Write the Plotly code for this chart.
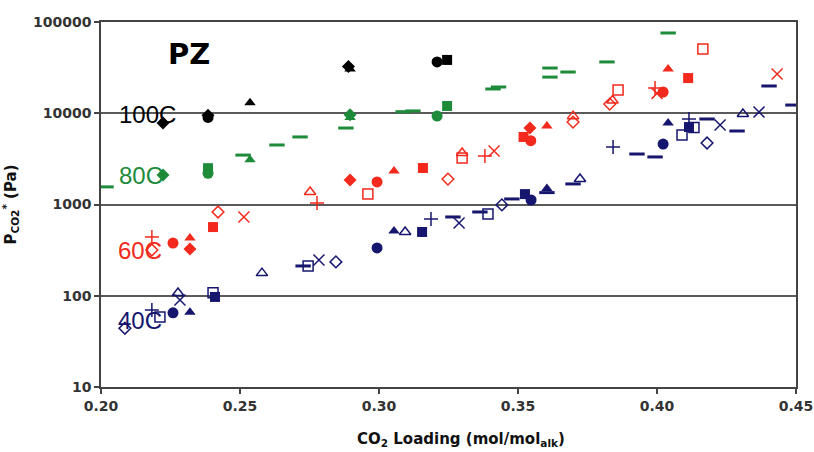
import math
import plotly.graph_objects as go

# CO2 partial pressure over piperazine (PZ) vs. loading, four temperatures.
# Each temperature: loading, pressure (Pa), marker style of the data set.

t100_x = [0.2223, 0.2385, 0.2385, 0.2536, 0.2896, 0.2890, 0.3209, 0.3245]
t100_y = [7800, 9000, 9500, 13000, 30500, 32500, 36500, 38400]
t100_m = ["diamond", "circle", "diamond", "triangle-up", "triangle-up", "diamond", "circle", "square"]

t80_x = [0.2018, 0.2223, 0.2385, 0.2385, 0.2511, 0.2536, 0.2633, 0.2716, 0.2881,
         0.2896, 0.2896, 0.3087, 0.3122, 0.3209, 0.3245, 0.3410, 0.3430, 0.3615,
         0.3615, 0.3680, 0.3820, 0.4040]
t80_y = [1560, 2100, 2500, 2200, 3480, 3100, 4490, 5500, 6890,
         9000, 9600, 10400, 10600, 9330, 12000, 18450, 19400, 31300,
         24900, 28300, 36500, 75800]
t80_m = ["line-ew", "diamond", "square", "circle", "line-ew", "triangle-up", "line-ew", "line-ew", "line-ew",
         "triangle-up", "diamond", "line-ew", "line-ew", "circle", "square", "line-ew", "line-ew", "line-ew",
         "line-ew", "line-ew", "line-ew", "line-ew"]

t60_x = [0.2183, 0.2183, 0.2259, 0.2320, 0.2320, 0.2403, 0.2421, 0.2514, 0.2752,
         0.2777, 0.2896, 0.2960, 0.2993, 0.3054, 0.3158, 0.3248, 0.3299, 0.3299,
         0.3381, 0.3414, 0.3520, 0.3543, 0.3546, 0.3604, 0.3698, 0.3698, 0.3830,
         0.3840, 0.3860, 0.3993, 0.4000, 0.4022, 0.4040, 0.4112, 0.4165, 0.4432]
t60_y = [440, 317, 378, 430, 325, 566, 828, 730, 1371,
         1038, 1853, 1303, 1766, 2330, 2512, 1900, 3660, 3236,
         3400, 3850, 5500, 6900, 5000, 7250, 9300, 8000, 12600,
         13800, 18000, 18900, 16500, 17100, 30500, 24300, 50600, 26900]
t60_m = ["cross-thin", "diamond-open", "circle", "triangle-up", "diamond", "square", "diamond-open", "x-thin", "triangle-up-open",
         "cross-thin", "diamond", "square-open", "circle", "triangle-up", "square", "diamond-open", "triangle-up-open", "square-open",
         "cross-thin", "x-thin", "square", "diamond", "circle", "triangle-up", "triangle-up-open", "diamond-open", "diamond-open",
         "triangle-up-open", "square-open", "cross-thin", "x-thin", "circle", "triangle-up", "square", "square-open", "x-thin"]

t40_x = [0.2086, 0.2183, 0.2212, 0.2259, 0.2277, 0.2284, 0.2320, 0.2410, 0.2403,
         0.2579, 0.2745, 0.2727, 0.2784, 0.2845, 0.2993, 0.3054, 0.3094, 0.3155,
         0.3187, 0.3266, 0.3288, 0.3363, 0.3392, 0.3442, 0.3478, 0.3525, 0.3547,
         0.3604, 0.3604, 0.3698, 0.3723, 0.3842, 0.3928, 0.3993, 0.4022, 0.4040,
         0.4090, 0.4115, 0.4133, 0.4115, 0.4180, 0.4180, 0.4227, 0.4288, 0.4309,
         0.4367, 0.4489, 0.4403]
t40_y = [44, 70, 58.5, 65, 107, 90, 66, 97, 108,
         177, 212, 212, 246, 235, 334, 513, 500, 500,
         694, 730, 626, 828, 787, 990, 1150, 1300, 1120,
         1500, 1350, 1680, 1900, 4260, 3575, 3320, 4600, 7820,
         5780, 7060, 7000, 8650, 8650, 4720, 7430, 6390, 9820,
         10300, 12300, 19900]
t40_m = ["diamond-open", "cross-thin", "square-open", "circle", "triangle-up-open", "x-thin", "triangle-up", "square", "square-open",
         "triangle-up-open", "square-open", "line-ew", "x-thin", "diamond-open", "circle", "triangle-up", "triangle-up-open", "square",
         "cross-thin", "line-ew", "x-thin", "line-ew", "square-open", "diamond-open", "line-ew", "square", "circle",
         "triangle-up", "line-ew", "line-ew", "triangle-up-open", "cross-thin", "line-ew", "line-ew", "circle", "triangle-up",
         "square-open", "square", "square-open", "cross-thin", "line-ew", "diamond-open", "x-thin", "line-ew", "triangle-up-open",
         "x-thin", "line-ew", "line-ew"]

temp_labels = ["100C", "80C", "60C", "40C"]
temp_colors = ["#000000", "#1e8b3a", "#f2291c", "#16166e"]
label_x = [0.2167, 0.2143, 0.2140, 0.2140]
label_y = [9600, 2100, 317, 53]

series = [(t100_x, t100_y, t100_m), (t80_x, t80_y, t80_m),
          (t60_x, t60_y, t60_m), (t40_x, t40_y, t40_m)]

line_syms = {"cross-thin", "x-thin", "line-ew"}
open_syms = {"diamond-open", "square-open", "triangle-up-open"} | line_syms
sizes = {"diamond": 10, "circle": 11, "square": 10, "triangle-up": 10,
         "diamond-open": 9, "square-open": 10, "triangle-up-open": 10,
         "cross-thin": 10, "x-thin": 11, "line-ew": 11}

AXIS_FONT = "DejaVu Sans, Verdana, sans-serif"
LABEL_FONT = "Liberation Sans, Arial, sans-serif"

fig = go.Figure()

for (xs, ys, ms), name, col in zip(series, temp_labels, temp_colors):
    for sym in dict.fromkeys(ms):
        px = [x for x, m in zip(xs, ms) if m == sym]
        py = [y for y, m in zip(ys, ms) if m == sym]
        plotly_sym = sym + "-open" if sym in line_syms else sym
        lw = 3 if sym == "line-ew" else (1.5 if sym in open_syms else 0)
        fig.add_trace(go.Scatter(
            x=px, y=py, mode="markers", name=name, showlegend=False,
            marker=dict(symbol=plotly_sym, size=sizes[sym], color=col,
                        line=dict(color=col, width=lw)),
        ))

for name, col, lx, ly in zip(temp_labels, temp_colors, label_x, label_y):
    fig.add_annotation(x=lx, y=math.log10(ly), xref="x", yref="y",
                       text=name, showarrow=False,
                       font=dict(family=LABEL_FONT, size=24, color=col))

fig.add_annotation(x=0.2318, y=4.65, xref="x", yref="y", text="<b>PZ</b>",
                   showarrow=False,
                   font=dict(family=AXIS_FONT, size=29, color="#000000"))

# x-axis caption, sitting a little right of the plot centre
fig.add_annotation(x=0.518, y=-0.145, xref="paper", yref="paper",
                   xanchor="center", yanchor="middle",
                   text="<b>CO<sub>2</sub> Loading (mol/mol<sub>alk</sub>)</b>",
                   showarrow=False,
                   font=dict(family=AXIS_FONT, size=15, color="#111111"))

fig.update_xaxes(
    range=[0.20, 0.45], dtick=0.05, tickformat=".2f", automargin=False,
    showgrid=False, zeroline=False,
    showline=True, linecolor="#444444", linewidth=1.5, mirror=True,
    ticks="outside", ticklen=5, tickcolor="#444444", tickwidth=1.5,
    tickfont=dict(family=AXIS_FONT, size=14, color="#333333", weight="bold"),
)
fig.update_yaxes(
    type="log", range=[1, 5], dtick=1, tickformat="d", automargin=False,
    showgrid=True, gridcolor="#5a5a5a", gridwidth=1.5,
    zeroline=False,
    showline=True, linecolor="#444444", linewidth=1.5, mirror=True,
    ticks="outside", ticklen=5, tickcolor="#444444", tickwidth=1.5,
    tickfont=dict(family=AXIS_FONT, size=14, color="#333333", weight="bold"),
    title=dict(text="<b>P<sub>CO2</sub><sup>*</sup> (Pa)</b>",
               font=dict(family=AXIS_FONT, size=15, color="#111111"),
               standoff=18),
)

fig.update_layout(
    width=814, height=452,
    margin=dict(l=101, r=18, t=22, b=65),
    paper_bgcolor="#ffffff", plot_bgcolor="#ffffff",
)

fig.write_html("out.html")
